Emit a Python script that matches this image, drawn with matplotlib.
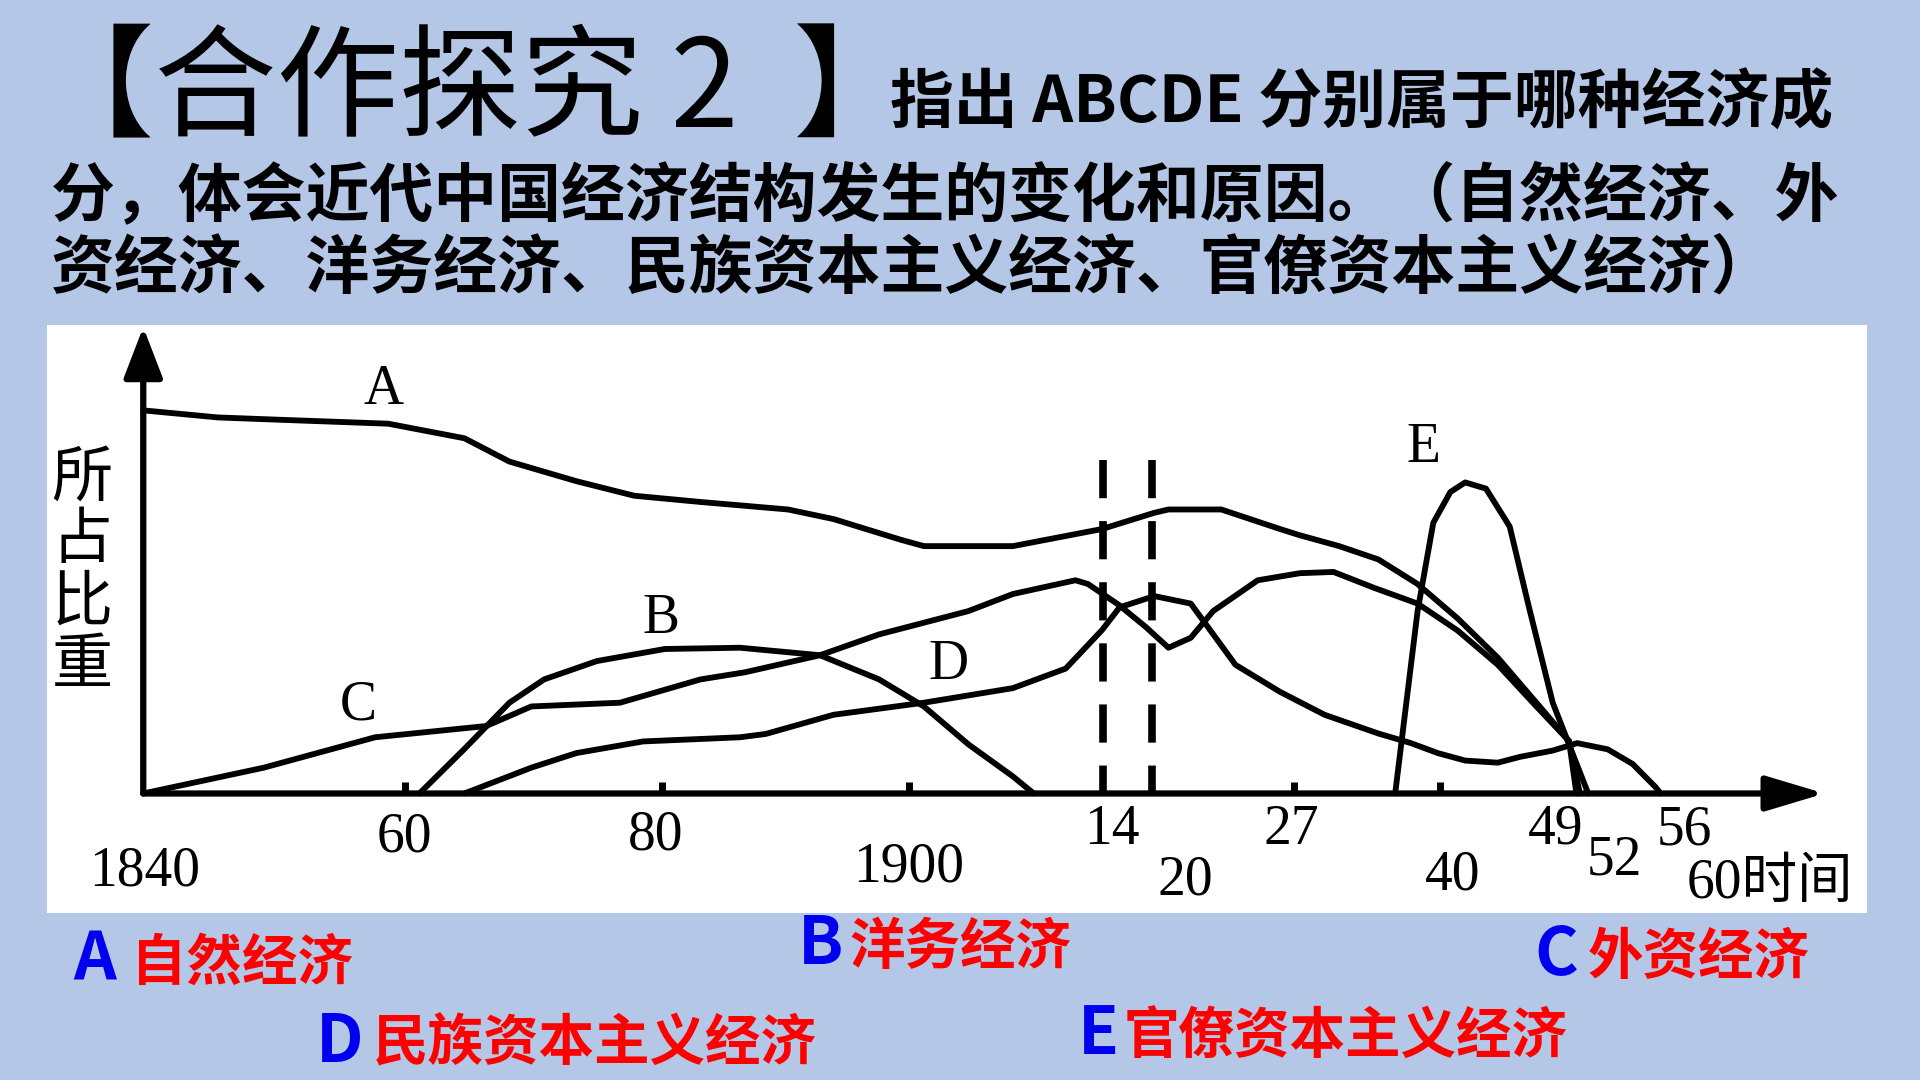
import numpy as np
import matplotlib.pyplot as plt

plt.rcParams['font.family'] = ['Noto Sans CJK SC', 'DejaVu Sans']

BG = '#B4C7E7'

# the hand-drawn time axis is not uniform: where each year sits along it
AXIS_YEARS = [1800, 1840, 1860, 1880, 1900, 1914, 1920, 1927, 1940, 1949, 1952, 1956, 1960, 2000]
AXIS_POS = [-311, 117, 331, 541, 742, 901, 941, 1057, 1176, 1285, 1297, 1355, 1400, 1850]

# share of each economic sector (arbitrary units)
a_years = [1840, 1845.7, 1850.8, 1858.7, 1864.6, 1868.1, 1873.3, 1877.8, 1883.1, 1890.2, 1893.9,
           1899.4, 1901.1, 1907.5, 1913.9, 1920.1, 1920.8, 1923.4, 1926.3, 1927.5, 1931, 1934.5,
           1938, 1941.2, 1943.9, 1946.5, 1948.7, 1949.6]
a_vals = [92, 90.3, 89.7, 88.8, 85.3, 79.7, 75, 71.5, 70, 68.2, 65.9,
          60.9, 59.4, 59.4, 63.5, 67.4, 68.2, 68.2, 63.5, 62, 59.4, 56.2,
          50.3, 42, 32.6, 21.8, 12.6, 0]

b_years = [1861.1, 1864.6, 1868.1, 1870.8, 1874.9, 1880.2, 1886.3, 1892.8, 1897.6, 1901.1,
           1904.3, 1907.5, 1909]
b_vals = [0, 10.7, 21.8, 27.4, 31.8, 34.7, 35, 33.2, 27.4, 20.9, 11.8, 4.1, 0]

c_years = [1840, 1849.2, 1857.7, 1866.3, 1869.8, 1876.7, 1883.1, 1886.7, 1892.8, 1897.6,
           1904.3, 1907.5, 1912, 1912.9, 1915.9, 1919.2, 1920.8, 1921.9, 1923, 1925.2,
           1927.5, 1930.5, 1934.1, 1938, 1941.2, 1943.9, 1946.5, 1948.7, 1950.3]
c_vals = [0, 6.2, 13.5, 16.2, 20.9, 21.8, 27.4, 29.1, 33.2, 38.2,
          43.8, 47.9, 51.2, 50.3, 45.3, 40, 35, 37.4, 43.8, 51.2,
          52.9, 53.2, 49.4, 45.6, 39.1, 30.9, 20.9, 12.6, 0]

d_years = [1864.6, 1869.8, 1873.3, 1878.5, 1886.3, 1888.4, 1893.9, 1901.1, 1907.5, 1911.3,
           1913.9, 1916, 1920.1, 1921.9, 1924.1, 1926.3, 1929.7, 1934.5, 1937.4, 1939.8,
           1941.7, 1943.9, 1945.4, 1947.6, 1949.75, 1953.1, 1954.5, 1955.8, 1956.1]
d_vals = [0, 6.2, 9.7, 12.5, 13.5, 14.3, 18.9, 21.8, 25.3, 30,
          39.2, 44.7, 47.4, 45.6, 30.9, 24.4, 18.9, 14.4, 12.1, 9.7,
          7.9, 7.4, 8.8, 10.3, 12.1, 10.6, 7.1, 1.5, 0]

e_years = [1936, 1938, 1939.4, 1940.7, 1941.7, 1943.1, 1944.7, 1946, 1947.6, 1952]
e_vals = [0, 43.8, 65, 72.4, 74.7, 73.2, 64.1, 44.7, 21.8, 0]

curve_names = ['A', 'B', 'C', 'D', 'E']
divider_years = [1914, 1920]
divider_top = 80
tick_mark_years = [1860, 1880, 1900, 1927, 1940]

tick_years = [1840, 1860, 1880, 1900, 1914, 1920, 1927, 1940, 1949, 1952, 1956, 1960]
tick_labels = ['1840', '60', '80', '1900', '14', '20', '27', '40', '49', '52', '56', '60时间']

answer_letters = ['A', 'B', 'C', 'D', 'E']
answer_texts = ['自然经济', '洋务经济', '外资经济', '民族资本主义经济', '官僚资本主义经济']

# layout (pixel positions on the 1920x1080 slide)
label_pos = [(1858.3, 97), (1879.9, 42), (1856.4, 21.2), (1902.9, 30.9), (1938.5, 83)]
tick_offsets = [(1, -56), (-1, -32), (-5, -30), (0, -53), (6, -26), (24, -63), (-2, -26),
                (9, -59), (-13, -26), (19, -48), (18, -27), (40, -65)]
answer_pos = [(73, 961, 131, 964), (798, 944, 849, 948), (1534, 955, 1588, 958),
              (316, 1042, 373, 1044), (1078, 1035, 1124, 1038)]


def fwd(x):
    return np.interp(x, AXIS_YEARS, AXIS_POS)


def inv(p):
    return np.interp(p, AXIS_POS, AXIS_YEARS)


def fx(px):
    return px / 1920


def fy(py):
    return 1 - py / 1080


fig = plt.figure(figsize=(19.2, 10.8), dpi=100, facecolor=BG)

# white picture of the textbook chart
ax = fig.add_axes([fx(47), fy(913), fx(1867 - 47), (913 - 325) / 1080])
ax.set_facecolor('white')
ax.set_xscale('function', functions=(fwd, inv))
ax.set_xlim(inv(38.4), inv(1524.7))
ax.set_ylim(-28.7, 112.5)
for s in ax.spines.values():
    s.set_visible(False)
ax.set_xticks([])
ax.set_yticks([])

for yrs, vals in [(a_years, a_vals), (b_years, b_vals), (c_years, c_vals),
                  (d_years, d_vals), (e_years, e_vals)]:
    ax.plot(yrs, vals, color='black', lw=4.2, solid_capstyle='round', solid_joinstyle='round')

for yr in divider_years:
    ax.plot([yr, yr], [divider_top, 0], color='black', lw=5.5, dashes=(5, 3))

ax.vlines(tick_mark_years, 0, 2.8, color='black', lw=5)

# axes with arrow heads
ax.annotate('', xy=(1968, 0), xytext=(1840, 0),
            arrowprops=dict(arrowstyle='-|>,head_length=1.5,head_width=0.45',
                            mutation_scale=24, lw=4.5, color='black', shrinkA=0, shrinkB=0))
ax.annotate('', xy=(1840, 112), xytext=(1840, 0),
            arrowprops=dict(arrowstyle='-|>,head_length=1.3,head_width=0.5',
                            mutation_scale=24, lw=4.5, color='black', shrinkA=0, shrinkB=0))

for name, (x, y) in zip(curve_names, label_pos):
    ax.text(x, y, name, fontsize=40, family='Liberation Serif', ha='center', va='center')

for yr, lab, (dx, dy) in zip(tick_years, tick_labels, tick_offsets):
    ax.annotate(lab, xy=(yr, 0), xytext=(dx, dy), textcoords='offset points',
                ha='center', va='center', fontsize=40,
                family=['Liberation Serif', 'Noto Sans CJK SC'])

fig.text(fx(82), fy(572), '所\n占\n比\n重', fontsize=44, ha='center', va='center',
         linespacing=1.0)

# slide title and question
fig.text(fx(32), fy(93), '【合作探究 2  】', fontsize=88, ha='left', va='center')
fig.text(fx(890), fy(104), '指出 ABCDE 分别属于哪种经济成', fontsize=46, weight='bold',
         ha='left', va='center')
fig.text(fx(51), fy(196), '分，体会近代中国经济结构发生的变化和原因。（自然经济、外',
         fontsize=46, weight='bold', ha='left', va='center')
fig.text(fx(51), fy(270), '资经济、洋务经济、民族资本主义经济、官僚资本主义经济）',
         fontsize=46, weight='bold', ha='left', va='center')

# answers
for letter, txt, (lx, ly, tx, ty) in zip(answer_letters, answer_texts, answer_pos):
    fig.text(fx(lx), fy(ly), letter, fontsize=48, weight='bold', color='#0000F0',
             ha='left', va='center')
    fig.text(fx(tx), fy(ty), txt, fontsize=40, weight='bold', color='#FF0000',
             ha='left', va='center')

fig.savefig('out.png', dpi=100, facecolor=BG)
